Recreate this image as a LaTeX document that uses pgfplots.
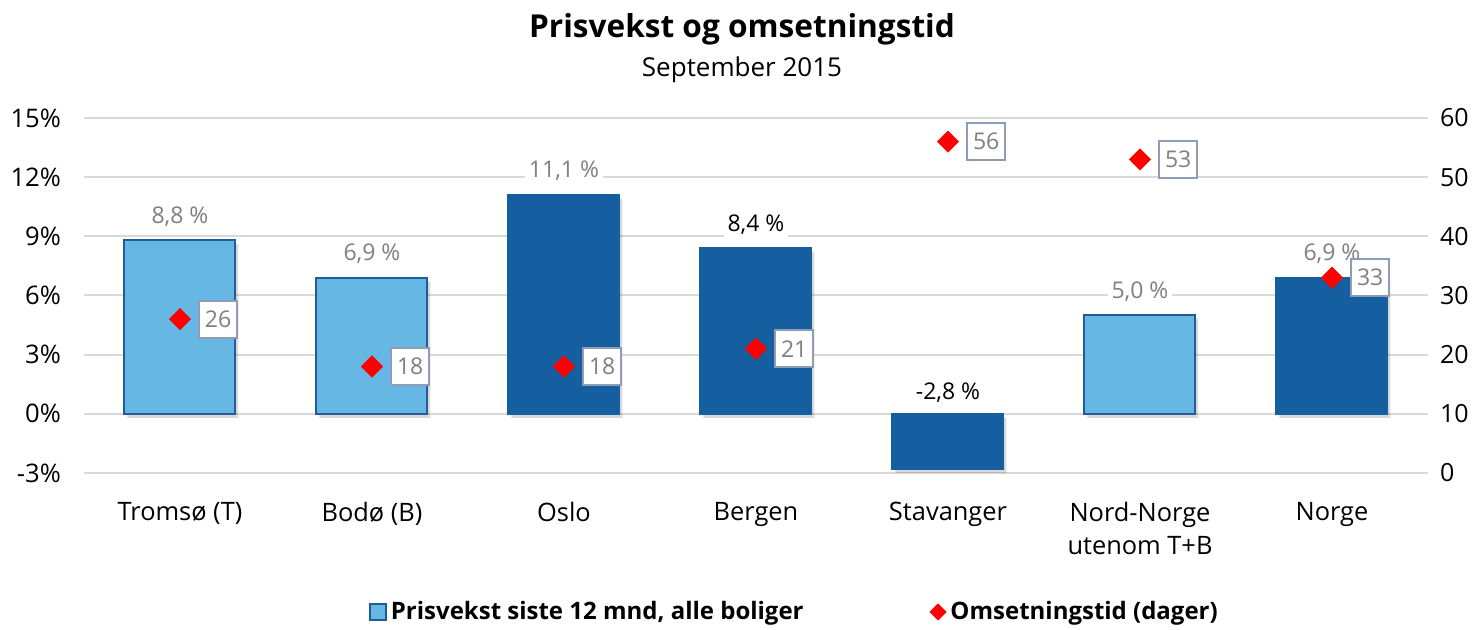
\documentclass[border=0pt]{standalone}
\usepackage{pgfplots}
\pgfplotsset{compat=1.18}
\usepackage{fontspec}
\setmainfont{Open Sans}
\definecolor{lightbar}{HTML}{67B7E4}
\definecolor{darkbar}{HTML}{155EA0}
\definecolor{barborder}{HTML}{1F5C99}
\definecolor{gridgray}{HTML}{D9D9D9}
\definecolor{labgray}{HTML}{7F7F7F}
\definecolor{boxborder}{HTML}{8C9DB5}
\begin{document}
\begin{tikzpicture}
\useasboundingbox (-42pt,-78.5pt) rectangle (700pt,236.5pt);
\node[font=\bfseries\fontsize{15.8}{19}\selectfont] at (329pt,222pt) {Prisvekst og omsetningstid};
\node[font=\fontsize{13}{15}\selectfont] at (329pt,201.5pt) {September 2015};
\begin{axis}[
  at={(0,0)}, anchor=south west,
  scale only axis, width=672pt, height=177.5pt,
  xmin=-0.5, xmax=6.5, ymin=-3, ymax=15,
  /pgf/number format/assume math mode=true,
  axis line style={draw=none}, major tick length=0pt,
  ytick={-3,0,3,6,9,12,15},
  yticklabel={\pgfmathprintnumber{\tick}\%},
  yticklabel style={xshift=-8pt, font=\fontsize{12.8}{14}\selectfont},
  ymajorgrids, grid style={gridgray, line width=1pt},
  xtick={0,...,6},
  xticklabels={Tromsø (T), Bodø (B), Oslo, Bergen, Stavanger, {Nord-Norge\\utenom T+B}, Norge},
  xticklabel style={align=center, yshift=-11pt, font=\fontsize{12.7}{16.5}\selectfont},
  clip=false,
]
\addplot[ybar, bar width=55.5pt, bar shift=1.5pt, fill=black, opacity=0.15, draw=none, yshift=-2pt] coordinates {(0,8.8) (1,6.9) (2,11.1) (3,8.4) (4,-2.8) (5,5.0) (6,6.9)};
\addplot[ybar, bar width=55.5pt, bar shift=0pt, fill=lightbar, draw=barborder, line width=1pt] coordinates {(0,8.8) (1,6.9) (5,5.0)};
\addplot[ybar, bar width=55.5pt, bar shift=0pt, fill=darkbar, draw=darkbar, line width=1pt] coordinates {(2,11.1) (3,8.4) (4,-2.8) (6,6.9)};
\addplot[draw=none, mark=none, point meta=explicit,
  nodes near coords={\pgfmathprintnumber[use comma, fixed, fixed zerofill, precision=1]{\pgfplotspointmeta} \%},
  nodes near coords style={anchor=center, yshift=12pt, fill=white, text=labgray, inner sep=2pt, font=\fontsize{11.5}{14}\selectfont}]
  coordinates {(0,8.8) [8.8] (1,6.9) [6.9] (2,11.1) [11.1] (5,5.0) [5.0] (6,6.9) [6.9]};
\addplot[draw=none, mark=none, point meta=explicit,
  nodes near coords={\pgfmathprintnumber[use comma, fixed, fixed zerofill, precision=1]{\pgfplotspointmeta} \%},
  nodes near coords style={anchor=center, yshift=12pt, fill=white, text=black, inner sep=2pt, font=\fontsize{11.5}{14}\selectfont}]
  coordinates {(3,8.4) [8.4]};
\addplot[draw=none, mark=none, point meta=explicit,
  nodes near coords={\pgfmathprintnumber[use comma, fixed, fixed zerofill, precision=1]{\pgfplotspointmeta} \%},
  nodes near coords style={anchor=center, yshift=10.5pt, fill=white, text=black, inner sep=2pt, font=\fontsize{11.5}{14}\selectfont}]
  coordinates {(4,0) [-2.8]};
\end{axis}
\begin{axis}[
  at={(0,0)}, anchor=south west,
  scale only axis, width=672pt, height=177.5pt,
  xmin=-0.5, xmax=6.5, ymin=0, ymax=60,
  /pgf/number format/assume math mode=true,
  axis line style={draw=none}, major tick length=0pt,
  xtick=\empty,
  ytick={0,10,...,60}, yticklabel pos=right,
  yticklabel style={xshift=2.5pt, font=\fontsize{12.5}{14}\selectfont},
  clip=false,
  legend columns=2,
  legend style={at={(0.2075,-0.3915)}, anchor=west, draw=none, fill=none,
    font=\bfseries\fontsize{12}{14}\selectfont,
    /tikz/every even column/.append style={column sep=61pt}},
  legend cell align=left,
]
\addlegendimage{legend image code/.code={\draw[fill=lightbar, draw=barborder, line width=0.8pt] (0pt,-4pt) rectangle (8pt,4pt);}}
\addlegendentry{Prisvekst siste 12 mnd, alle boliger}
\addlegendimage{legend image code/.code={\fill[red] (5pt,-4pt) -- (9pt,0pt) -- (5pt,4pt) -- (1pt,0pt) -- cycle;}}
\addlegendentry{Omsetningstid (dager)}
\addplot[forget plot, only marks, mark=square*, mark size=3.7pt, mark options={rotate=45, fill=red, draw=red},
  point meta=y,
  nodes near coords={\pgfmathprintnumber{\pgfplotspointmeta}},
  nodes near coords style={anchor=west, xshift=9pt, draw=boxborder, fill=white, text=labgray, line width=1pt,
    minimum height=18.5pt, inner sep=3pt, font=\fontsize{11.5}{14}\selectfont}]
  coordinates {(0,26) (1,18) (2,18) (3,21) (4,56) (5,53) (6,33)};
\end{axis}
\end{tikzpicture}
\end{document}
